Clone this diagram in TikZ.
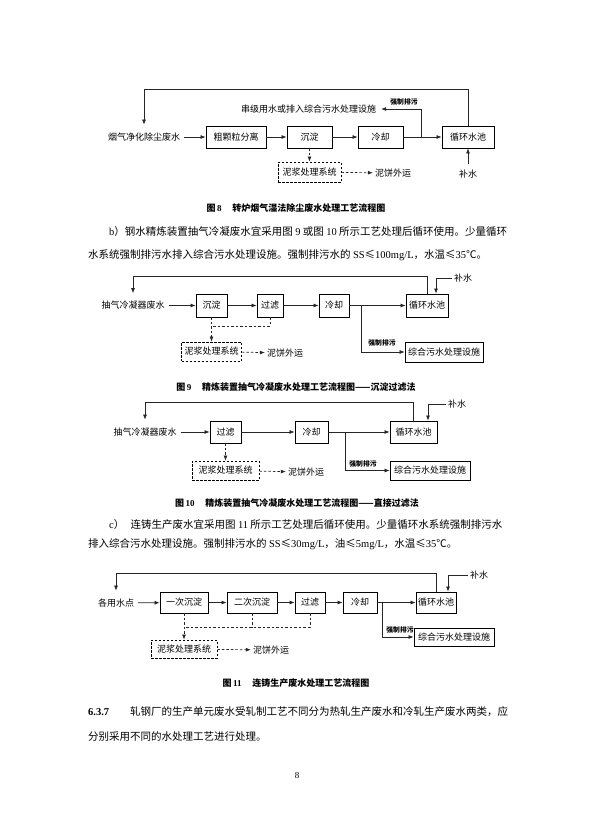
\documentclass[tikz,border=0pt]{standalone}
\usepackage{fontspec}
\setmainfont{Noto Sans CJK SC}
\newfontfamily\lat{Liberation Serif}
\usetikzlibrary{arrows.meta,shadows}
\tikzset{
 ln/.style={draw=black!85, line width=0.7pt},
 arr/.style={ln, -{Latex[length=5pt,width=4pt]}},
 dln/.style={ln, dash pattern=on 2.5pt off 2pt},
 darr/.style={dln, -{Latex[length=5pt,width=4pt]}},
 box/.style={draw, line width=0.9pt, fill=white, inner sep=1pt, font=\fontsize{9}{10}\selectfont},
 dbox/.style={box, dash pattern=on 2.5pt off 1.5pt},
 tbox/.style={box, drop shadow={shadow xshift=0.8pt, shadow yshift=-0.8pt, fill=black, opacity=1}},
 lbl/.style={inner sep=2pt, font=\fontsize{9}{10}\selectfont},
 src/.style={lbl, inner xsep=4pt, inner ysep=8pt},
 small/.style={inner sep=1pt, font=\fontsize{6.8}{7}\selectfont\bfseries},
 captxt/.style={inner sep=0pt, font=\fontsize{9}{10}\selectfont\bfseries},
 body/.style={inner sep=0pt, anchor=west, font=\fontsize{10.5}{12}\selectfont},
}
\begin{document}
\begin{tikzpicture}[x=1pt,y=-1pt]
\fill[white] (0,0) rectangle (594,840);
\useasboundingbox (0,0) rectangle (594,840);

% ---------- Figure 8 ----------
\coordinate (top8) at (0,89);
\node[src] (src8) at (144,137) {烟气净化除尘废水};
\node[box, minimum width=60, minimum height=22] (sep8) at (236,137) {粗颗粒分离};
\node[box, minimum width=45, minimum height=22] (sed8) at (309.5,137) {沉淀};
\node[box, minimum width=45, minimum height=22] (cool8) at (380.5,137) {冷却};
\node[box, minimum width=52, minimum height=22] (pool8) at (468,137) {循环水池};
\node[lbl, inner xsep=5pt] (cas8) at (308.5,109) {串级用水或排入综合污水处理设施};
\node[small] (lab8) at (404,102) {强制排污};
\node[lbl, inner ysep=6pt] (mk8) at (468,174) {补水};
\node[dbox, minimum width=63, minimum height=20] (sl8) at (309.5,172) {泥浆处理系统};
\node[lbl] (cake8) at (393,173) {泥饼外运};
\coordinate (br8) at (421,137);
\draw[arr] (pool8.north) -- (pool8.north |- top8) -| (src8.north);
\draw[arr] (src8) -- (sep8);
\draw[arr] (sep8) -- (sed8);
\draw[arr] (sed8) -- (cool8);
\draw[arr] (cool8) -- (pool8);
\draw[arr] (br8) |- (cas8.east);
\draw[arr] (mk8) -- (pool8.south);
\draw[darr] (sed8.south) -- (sl8.north);
\draw[darr] (sl8) -- (cake8);
\node[captxt] (cap8) at (296,208) {图\,{\lat 8}\hspace{1.2em}转炉烟气湿法除尘废水处理工艺流程图};

% ---------- paragraph b ----------
\node[body] (pb1) at (109,232) {{\lat b}）钢水精炼装置抽气冷凝废水宜采用图 {\lat 9} 或图 {\lat 10} 所示工艺处理后循环使用。少量循环};
\node[body] (pb2) at (88,255) {水系统强制排污水排入综合污水处理设施。强制排污水的 {\lat SS}≤{\lat 100mg/L}，水温≤{\lat 35}℃。};

% ---------- Figure 9 ----------
\coordinate (top9) at (0,276);
\node[src] (src9) at (133,305.5) {抽气冷凝器废水};
\node[box, minimum width=31, minimum height=23] (sed9) at (211.5,305.5) {沉淀};
\node[box, minimum width=26, minimum height=23] (fil9) at (270,305.5) {过滤};
\node[box, minimum width=30, minimum height=23] (cool9) at (334,305.5) {冷却};
\node[box, minimum width=42, minimum height=23] (pool9) at (427,305.5) {循环水池};
\node[tbox, minimum width=78, minimum height=20] (tr9) at (444,352) {综合污水处理设施};
\node[small] (lab9) at (382,343) {强制排污};
\node[lbl] (mk9) at (463,278) {补水};
\node[dbox, minimum width=60, minimum height=19] (sl9) at (211.5,351.5) {泥浆处理系统};
\node[lbl] (cake9) at (285,353) {泥饼外运};
\coordinate (br9) at (361,305.5);
\coordinate (j9) at (211.5,326);
\draw[arr] (pool9.north) -- (pool9.north |- top9) -| (src9.north);
\draw[arr] (src9) -- (sed9);
\draw[arr] (sed9) -- (fil9);
\draw[arr] (fil9) -- (cool9);
\draw[arr] (cool9) -- (pool9);
\draw[arr] (br9) |- (tr9.west);
\draw[arr] (mk9.west) -| ([xshift=9pt]pool9.north);
\draw[darr] (sed9.south) -- (sl9.north);
\draw[dln] (fil9.south) |- (j9);
\draw[darr] (sl9) -- (cake9);
\node[captxt] (cap9) at (296,387) {图\,{\lat 9}\hspace{1.2em}精炼装置抽气冷凝废水处理工艺流程图——沉淀过滤法};

% ---------- Figure 10 ----------
\coordinate (top10) at (0,402);
\node[src] (src10) at (145,432) {抽气冷凝器废水};
\node[box, minimum width=31, minimum height=22] (fil10) at (225.5,432) {过滤};
\node[box, minimum width=33, minimum height=22] (cool10) at (311.5,432) {冷却};
\node[box, minimum width=47, minimum height=22] (pool10) at (413.5,432) {循环水池};
\node[tbox, minimum width=80, minimum height=19] (tr10) at (430,470.5) {综合污水处理设施};
\node[small] (lab10) at (363,464) {强制排污};
\node[lbl] (mk10) at (457,404) {补水};
\node[dbox, minimum width=67, minimum height=19] (sl10) at (225.5,470.5) {泥浆处理系统};
\node[lbl] (cake10) at (306,472) {泥饼外运};
\coordinate (br10) at (345,432);
\draw[arr] (pool10.north) -- (pool10.north |- top10) -| (src10.north);
\draw[arr] (src10) -- (fil10);
\draw[arr] (fil10) -- (cool10);
\draw[arr] (cool10) -- (pool10);
\draw[arr] (br10) |- (tr10.west);
\draw[arr] (mk10.west) -| ([xshift=14.5pt]pool10.north);
\draw[darr] (fil10.south) -- (sl10.north);
\draw[darr] (sl10) -- (cake10);
\node[captxt] (cap10) at (297,503) {图\,{\lat 10}\hspace{1.2em}精炼装置抽气冷凝废水处理工艺流程图——直接过滤法};

% ---------- paragraph c ----------
\node[body] (pc1) at (109,525) {{\lat c}）\hspace{0.6em}连铸生产废水宜采用图 {\lat 11} 所示工艺处理后循环使用。少量循环水系统强制排污水};
\node[body] (pc2) at (88,544) {排入综合污水处理设施。强制排污水的 {\lat SS}≤{\lat 30mg/L}，油≤{\lat 5mg/L}，水温≤{\lat 35}℃。};

% ---------- Figure 11 ----------
\coordinate (top11) at (0,573);
\node[src] (src11) at (116,603) {各用水点};
\node[box, minimum width=48, minimum height=21] (s1) at (184,602.5) {一次沉淀};
\node[box, minimum width=50, minimum height=21] (s2) at (252,602.5) {二次沉淀};
\node[box, minimum width=30, minimum height=21] (fil11) at (310,602.5) {过滤};
\node[box, minimum width=34, minimum height=21] (cool11) at (360,602.5) {冷却};
\node[box, minimum width=40, minimum height=21] (pool11) at (436,602.5) {循环水池};
\node[tbox, minimum width=80, minimum height=18] (tr11) at (454,637) {综合污水处理设施};
\node[small] (lab11) at (400,630) {强制排污};
\node[lbl] (mk11) at (479,575) {补水};
\node[dbox, minimum width=66, minimum height=18] (sl11) at (184,649) {泥浆处理系统};
\node[lbl] (cake11) at (271,650) {泥饼外运};
\coordinate (br11) at (382,602.5);
\coordinate (j11) at (184,627);
\draw[arr] (pool11.north) -- (pool11.north |- top11) -| (src11.north);
\draw[arr] (src11) -- (s1);
\draw[arr] (s1) -- (s2);
\draw[arr] (s2) -- (fil11);
\draw[arr] (fil11) -- (cool11);
\draw[arr] (cool11) -- (pool11);
\draw[arr] (br11) |- (tr11.west);
\draw[arr] (mk11.west) -| ([xshift=12pt]pool11.north);
\draw[darr] (s1.south) -- (sl11.north);
\draw[dln] (fil11.south) |- (j11);
\draw[dln] (s2.south) -- (s2.south |- j11);
\draw[darr] (sl11) -- (cake11);
\node[captxt] (cap11) at (296,683) {图\,{\lat 11}\hspace{1.2em}连铸生产废水处理工艺流程图};

% ---------- paragraph 6.3.7 ----------
\node[body, font=\fontsize{10.5}{12}\selectfont\bfseries] (p1n) at (88,712) {\lat 6.3.7};
\node[body] (p1a) at (130,712) {轧钢厂的生产单元废水受轧制工艺不同分为热轧生产废水和冷轧生产废水两类，应};
\node[body] (p1b) at (88,737) {分别采用不同的水处理工艺进行处理。};

\node[inner sep=0pt, font=\fontsize{9}{10}\selectfont\lat] (pg) at (297,776) {8};
\end{tikzpicture}
\end{document}
